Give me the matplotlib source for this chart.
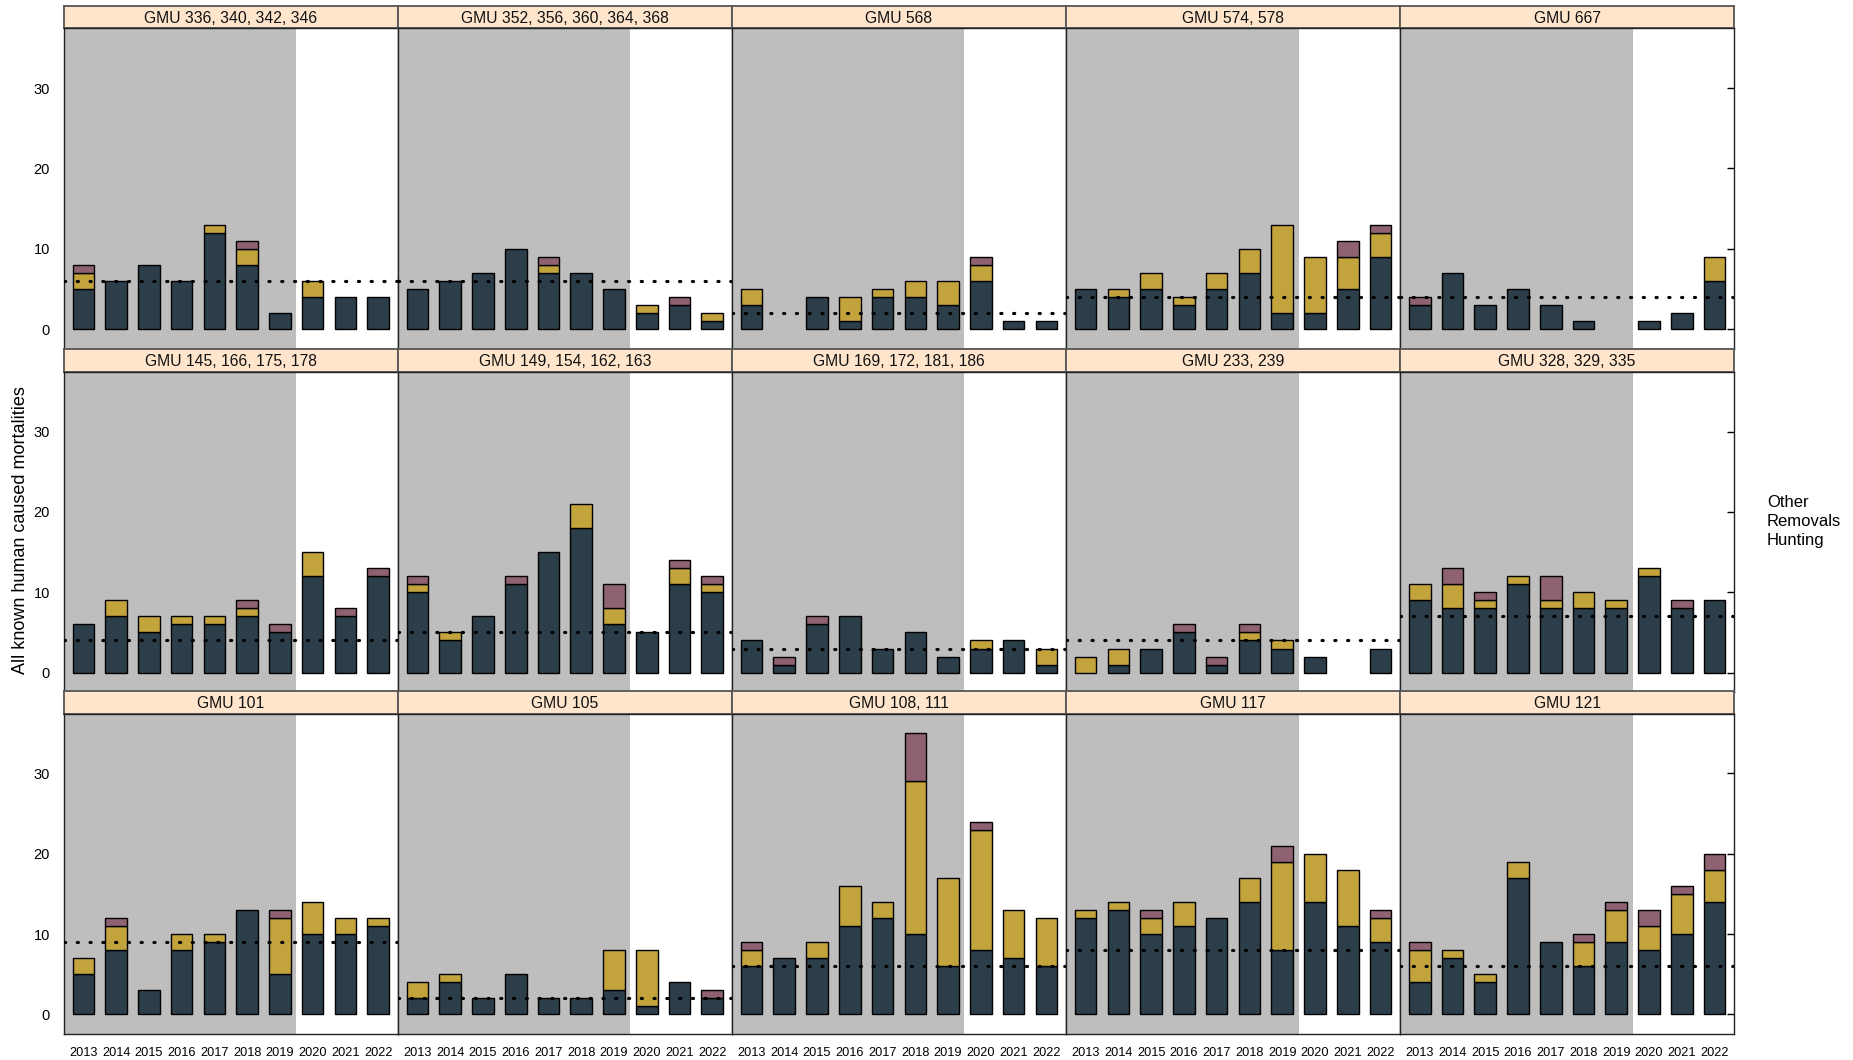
import numpy as np
import matplotlib
matplotlib.use("Agg")
import matplotlib.pyplot as plt
from matplotlib import font_manager as fm

# ---------------------------------------------------------------- data
years = ["2013", "2014", "2015", "2016", "2017", "2018", "2019", "2020", "2021", "2022"]

gmu_labels = [
    "GMU 336, 340, 342, 346", "GMU 352, 356, 360, 364, 368", "GMU 568", "GMU 574, 578", "GMU 667",
    "GMU 145, 166, 175, 178", "GMU 149, 154, 162, 163", "GMU 169, 172, 181, 186", "GMU 233, 239", "GMU 328, 329, 335",
    "GMU 101", "GMU 105", "GMU 108, 111", "GMU 117", "GMU 121",
]

hunting = [
    [5, 6, 8, 6, 12, 8, 2, 4, 4, 4],
    [5, 6, 7, 10, 7, 7, 5, 2, 3, 1],
    [3, 0, 4, 1, 4, 4, 3, 6, 1, 1],
    [5, 4, 5, 3, 5, 7, 2, 2, 5, 9],
    [3, 7, 3, 5, 3, 1, 0, 1, 2, 6],
    [6, 7, 5, 6, 6, 7, 5, 12, 7, 12],
    [10, 4, 7, 11, 15, 18, 6, 5, 11, 10],
    [4, 1, 6, 7, 3, 5, 2, 3, 4, 1],
    [0, 1, 3, 5, 1, 4, 3, 2, 0, 3],
    [9, 8, 8, 11, 8, 8, 8, 12, 8, 9],
    [5, 8, 3, 8, 9, 13, 5, 10, 10, 11],
    [2, 4, 2, 5, 2, 2, 3, 1, 4, 2],
    [6, 7, 7, 11, 12, 10, 6, 8, 7, 6],
    [12, 13, 10, 11, 12, 14, 8, 14, 11, 9],
    [4, 7, 4, 17, 9, 6, 9, 8, 10, 14],
]

removals = [
    [2, 0, 0, 0, 1, 2, 0, 2, 0, 0],
    [0, 0, 0, 0, 1, 0, 0, 1, 0, 1],
    [2, 0, 0, 3, 1, 2, 3, 2, 0, 0],
    [0, 1, 2, 1, 2, 3, 11, 7, 4, 3],
    [0, 0, 0, 0, 0, 0, 0, 0, 0, 3],
    [0, 2, 2, 1, 1, 1, 0, 3, 0, 0],
    [1, 1, 0, 0, 0, 3, 2, 0, 2, 1],
    [0, 0, 0, 0, 0, 0, 0, 1, 0, 2],
    [2, 2, 0, 0, 0, 1, 1, 0, 0, 0],
    [2, 3, 1, 1, 1, 2, 1, 1, 0, 0],
    [2, 3, 0, 2, 1, 0, 7, 4, 2, 1],
    [2, 1, 0, 0, 0, 0, 5, 7, 0, 0],
    [2, 0, 2, 5, 2, 19, 11, 15, 6, 6],
    [1, 1, 2, 3, 0, 3, 11, 6, 7, 3],
    [4, 1, 1, 2, 0, 3, 4, 3, 5, 4],
]

other = [
    [1, 0, 0, 0, 0, 1, 0, 0, 0, 0],
    [0, 0, 0, 0, 1, 0, 0, 0, 1, 0],
    [0, 0, 0, 0, 0, 0, 0, 1, 0, 0],
    [0, 0, 0, 0, 0, 0, 0, 0, 2, 1],
    [1, 0, 0, 0, 0, 0, 0, 0, 0, 0],
    [0, 0, 0, 0, 0, 1, 1, 0, 1, 1],
    [1, 0, 0, 1, 0, 0, 3, 0, 1, 1],
    [0, 1, 1, 0, 0, 0, 0, 0, 0, 0],
    [0, 0, 0, 1, 1, 1, 0, 0, 0, 0],
    [0, 2, 1, 0, 3, 0, 0, 0, 1, 0],
    [0, 1, 0, 0, 0, 0, 1, 0, 0, 0],
    [0, 0, 0, 0, 0, 0, 0, 0, 0, 1],
    [1, 0, 0, 0, 0, 6, 0, 1, 0, 0],
    [0, 0, 1, 0, 0, 0, 2, 0, 0, 1],
    [1, 0, 0, 0, 0, 1, 1, 2, 1, 2],
]

reference_level = [6, 6, 2, 4, 4, 4, 5, 3, 4, 7, 9, 2, 6, 8, 6]

y_ticks = [0, 10, 20, 30]
legend_entries = ["Other", "Removals", "Hunting"]

# ---------------------------------------------------------------- style
def pick_font(*names):
    available = {f.name for f in fm.fontManager.ttflist}
    for n in names:
        if n in available:
            return n
    return "DejaVu Sans"

FONT = pick_font("Liberation Sans", "Arial", "DejaVu Sans")

COL_HUNT = "#2d3e4b"
COL_REM = "#c2a33c"
COL_OTH = "#8e6272"
COL_BG = "#bebebe"
COL_STRIP = "#ffe5cc"

W, H = 1853, 1060
fig = plt.figure(figsize=(W / 100, H / 100), dpi=100)

left0 = 63.7
col_w = 334.1
row_tops = [5.7, 349.2, 691.0]
strip_h = 22.6
panel_h = 320.5

x = np.arange(1, len(years) + 1)
bar_w = 0.66

def fig_rect(left_px, top_px, w_px, h_px):
    return [left_px / W, 1 - (top_px + h_px) / H, w_px / W, h_px / H]

for i, label in enumerate(gmu_labels):
    r, c = divmod(i, 5)
    lx = left0 + c * col_w
    top = row_tops[r]

    # strip with the panel title
    sax = fig.add_axes(fig_rect(lx, top, col_w, strip_h))
    sax.set_facecolor(COL_STRIP)
    sax.set_xticks([])
    sax.set_yticks([])
    for sp in sax.spines.values():
        sp.set_color("#555555")
        sp.set_linewidth(1.3)
    sax.text(0.5, 0.45, label, ha="center", va="center", transform=sax.transAxes,
             fontsize=11.3, family=FONT, color="#111111")

    # panel
    ax = fig.add_axes(fig_rect(lx, top + strip_h, col_w, panel_h))
    ax.set_xlim(0.4, 10.6)
    ax.set_ylim(-2.45, 37.45)
    ax.axvspan(0.4, 7.5, color=COL_BG, zorder=0, lw=0)

    h = np.array(hunting[i])
    rm = np.array(removals[i])
    ot = np.array(other[i])
    for vals, base, col in ((h, np.zeros_like(h), COL_HUNT), (rm, h, COL_REM), (ot, h + rm, COL_OTH)):
        m = vals > 0
        ax.bar(x[m], vals[m], bottom=base[m], width=bar_w, color=col,
               edgecolor="black", linewidth=1.0, zorder=2)

    ax.axhline(reference_level[i], color="black", linewidth=2.3,
               linestyle=(0, (0.35, 3.65)), dash_capstyle="round", zorder=3)

    for sp in ax.spines.values():
        sp.set_color("#222222")
        sp.set_linewidth(1.0)

    ax.set_xticks(x)
    ax.set_yticks(y_ticks)
    ax.tick_params(axis="x", length=0, pad=9)
    ax.tick_params(axis="y", left=False, length=0, pad=10)
    if r == 2:
        ax.set_xticklabels(years, fontsize=9.2, family=FONT)
    else:
        ax.set_xticklabels([])
    if c == 0:
        ax.set_yticklabels([str(t) for t in y_ticks], fontsize=10.5, family=FONT)
    else:
        ax.set_yticklabels([])
    if c == 4:
        ax.tick_params(axis="y", right=True, direction="in", length=5, width=1.0, color="black")

fig.text(21 / W, 0.5, "All known human caused mortalities", rotation=90,
         ha="center", va="center", fontsize=13, family=FONT)

for txt, ypx in zip(legend_entries, [502.7, 521.7, 540.7]):
    fig.text(1767 / W, 1 - ypx / H, txt, ha="left", va="center",
             fontsize=12, family=FONT)

fig.savefig("out.png", dpi=100, facecolor="white")
